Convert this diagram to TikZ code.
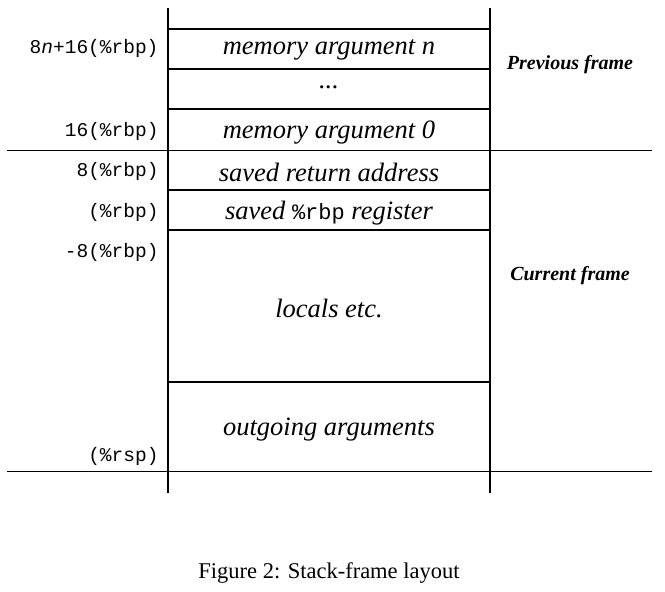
\documentclass[tikz,border=0pt]{standalone}
\usepackage{fontspec}
\setmainfont{Liberation Serif}
\setmonofont{Liberation Mono}
\begin{document}
\begin{tikzpicture}[x=1pt,y=-1pt,
  cell/.style={font=\fontsize{26.5}{28}\selectfont\itshape},
  addr/.style={font=\fontsize{19.5}{22}\selectfont\ttfamily, anchor=east},
  frm/.style={font=\fontsize{20}{22}\selectfont\bfseries\itshape},
  hline/.style={line width=1.3pt},
  ]
\useasboundingbox (0,0) rectangle (665,592);
% vertical lines
\draw[line width=1.8pt] (168,8) -- (168,493);
\draw[line width=2.6pt] (490,8) -- (490,493);
% box separators
\foreach \y in {29,69,109,190,230,382}
  \draw[hline] (168,\y) -- (490,\y);
\draw[line width=1pt] (7,150) -- (652,150);
\draw[line width=1pt] (7,471) -- (652,471);
% cell texts
\node[cell] (mn) at (329,50) {memory argument n};
\node[cell] (dots) at (329,87) {...};
\node[cell] (m0) at (329,133) {memory argument 0};
\node[cell] (ret) at (329,172) {saved return address};
\node[cell] (rbp) at (329,213) {saved {\upshape\ttfamily\fontsize{22}{24}\selectfont\%rbp} register};
\node[cell] (loc) at (329,308) {locals etc.};
\node[cell] (out) at (329,430) {outgoing arguments};
% addresses
\node[addr] (a1) at (162,48) {8\textit{n}+16(\%rbp)};
\node[addr] (a2) at (162,131) {16(\%rbp)};
\node[addr] (a3) at (162,171) {8(\%rbp)};
\node[addr] (a4) at (162,212) {(\%rbp)};
\node[addr] (a5) at (162,252) {-8(\%rbp)};
\node[addr] (a6) at (162,456) {(\%rsp)};
% frames
\node[frm] (pf) at (570,65) {Previous frame};
\node[frm] (cf) at (570,276) {Current frame};
% caption
\node[font=\fontsize{22.5}{24}\selectfont] (cap) at (329,573) {Figure 2: Stack-frame layout};
\end{tikzpicture}
\end{document}
